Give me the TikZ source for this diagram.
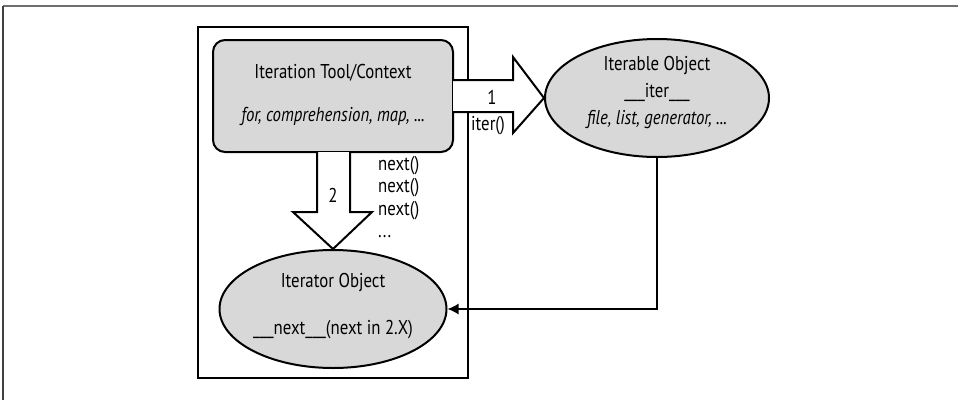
\documentclass[tikz,border=0pt]{standalone}
\usepackage{fontspec}
\setmainfont{PT Sans}[FakeStretch=0.84]
\usetikzlibrary{shapes.geometric,arrows.meta}
\definecolor{shade}{HTML}{D8D8D8}
\definecolor{edgegray}{HTML}{6E6E6E}
\tikzset{
  lbl/.style={font=\fontsize{20}{22}\selectfont, inner sep=0pt},
  shaded/.style={draw=black, fill=shade, line width=2pt},
  bigarrow/.style={draw=black, fill=white, line width=2pt, line join=miter},
}
\begin{document}
\begin{tikzpicture}[x=1pt,y=-1pt]
\useasboundingbox (0,0) rectangle (958,400);
% page edge lines
\draw[edgegray, line width=1.5pt] (3,6) -- (958,6);
\draw[black!75, line width=1.5pt] (3,6) -- (3,400);
% frame
\node[draw, line width=2pt, minimum width=270pt, minimum height=351pt, inner sep=0pt] (frame) at (333,202.5) {};
% tool
\node[shaded, rounded corners=12pt, minimum width=240pt, minimum height=112pt, inner sep=0pt] (tool) at (333,96) {};
\node[lbl] (tooltitle) at (333,73) {Iteration Tool/Context};
\node[lbl] (toolsub) at (333,116) {\itshape for, comprehension, map, ...};
% iterable
\node[shaded, ellipse, minimum width=224pt, minimum height=118pt, inner sep=0pt] (iterable) at (657,98) {};
\node[lbl] (it1) at (657,65) {Iterable Object};
\node[lbl] (it2) at (657,92) {\_\_\_iter\_\_\_};
\node[lbl] (it3) at (657,120) {\itshape file, list, generator, ...};
% iterator
\node[shaded, ellipse, minimum width=227pt, minimum height=118pt, inner sep=0pt] (iterator) at (333,309) {};
\node[lbl] (itr1) at (333,282) {Iterator Object};
\node[lbl] (itr2) at (333,330) {\_\_\_next\_\_\_(next in 2.X)};
% arrow 1
\path[bigarrow] (453,80) -- (513,80) -- (513,57) -- (iterable.west) -- (513,133) -- (513,112) -- (453,112);
\node[lbl] (one) at (492,97) {1};
\node[lbl, anchor=west] (iterlbl) at (471,126) {iter()};
% arrow 2
\path[bigarrow] (317,152) -- (317,212) -- (293,212) -- (333,249) -- (372,212) -- (350,212) -- (350,152);
\node[lbl] (two) at (333,195) {2};
\node[lbl, anchor=north west, align=left, font=\fontsize{20}{22.5}\selectfont] (nexts) at (378,156) {next()\\next()\\next()\\...};
% connector
\draw[line width=1.5pt, -{Latex[length=11pt,width=11pt]}] (iterable.south) |- (iterator.east);
\end{tikzpicture}
\end{document}
